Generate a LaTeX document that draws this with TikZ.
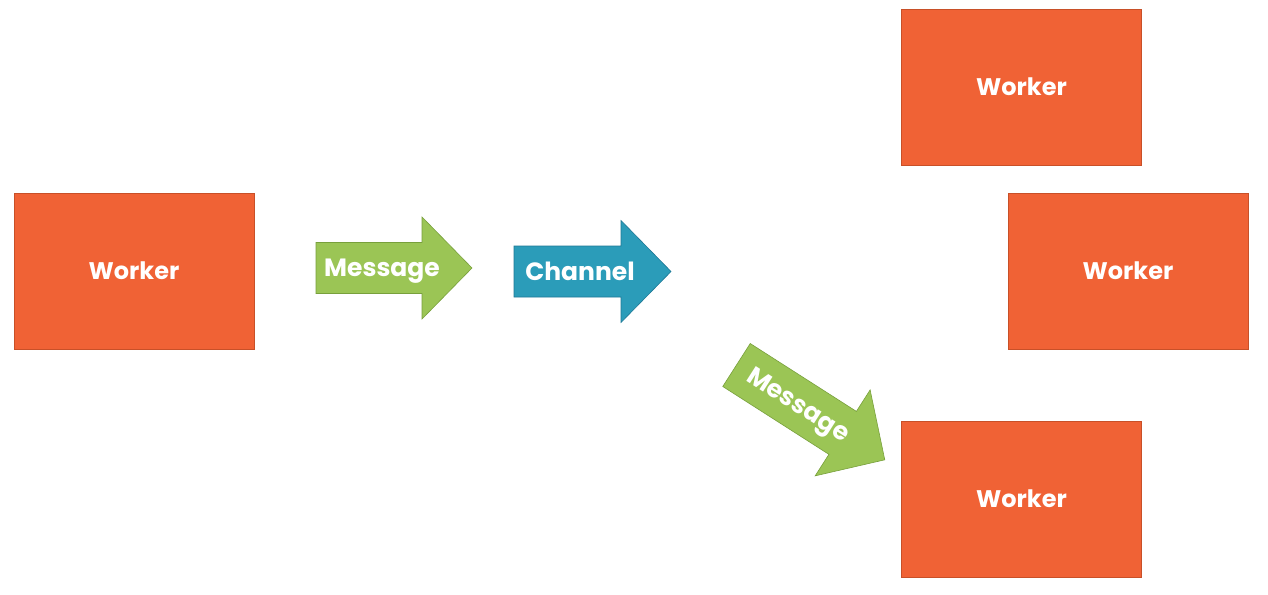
\documentclass[tikz,border=0pt]{standalone}
\usepackage{fontspec}
\setmainfont{Poppins}
\definecolor{wkfill}{RGB}{240,98,53}
\definecolor{wkedge}{RGB}{200,80,40}
\definecolor{msgfill}{RGB}{155,197,85}
\definecolor{msgedge}{RGB}{120,160,60}
\definecolor{chfill}{RGB}{43,156,185}
\definecolor{chedge}{RGB}{30,120,150}
\tikzset{
  worker/.style={draw=wkedge, line width=0.6pt, fill=wkfill, minimum width=240pt, minimum height=156pt, inner sep=0pt, text=white, font=\fontsize{24}{28}\selectfont\bfseries, text height=16.8pt, text depth=0pt},
  lbl/.style={text=white, inner sep=0pt, font=\fontsize{25}{28}\selectfont\bfseries, text height=17.5pt, text depth=0pt},
  arrowshape/.style={line width=0.6pt},
}
\newcommand{\fatarrow}[2]{% #1 shaft length, #2 head length
  (0,-25.5) -- (#1,-25.5) -- (#1,-51) -- ({#1+#2},0) -- (#1,51) -- (#1,25.5) -- (0,25.5) -- cycle}
\begin{document}
\begin{tikzpicture}[x=1pt,y=-1pt]
\useasboundingbox (0,0) rectangle (1268,594);
\fill[white] (0,0) rectangle (1268,594);
% workers
\node[worker] (w1) at (134,271) {Worker};
\node[worker] (w2) at (1021.5,87.5) {Worker};
\node[worker] (w3) at (1128,271) {Worker};
\node[worker] (w4) at (1021.5,499) {Worker};
% message arrow
\begin{scope}[shift={(316,268)}]
  \draw[arrowshape, fill=msgfill, draw=msgedge] \fatarrow{106}{50};
\end{scope}
\node[lbl] (m1) at (382,268) {Message};
% channel arrow
\begin{scope}[shift={(514,271.5)}]
  \draw[arrowshape, fill=chfill, draw=chedge] \fatarrow{107}{50};
\end{scope}
\node[lbl] (c1) at (580,271.5) {Channel};
% diagonal message arrow
\begin{scope}[shift={(736.5,365)}, rotate=-32.6]
  \draw[arrowshape, fill=msgfill, draw=msgedge] \fatarrow{126}{50};
\end{scope}
\node[lbl, rotate=-32.6] (m2) at (799,404) {Message};
\end{tikzpicture}
\end{document}
